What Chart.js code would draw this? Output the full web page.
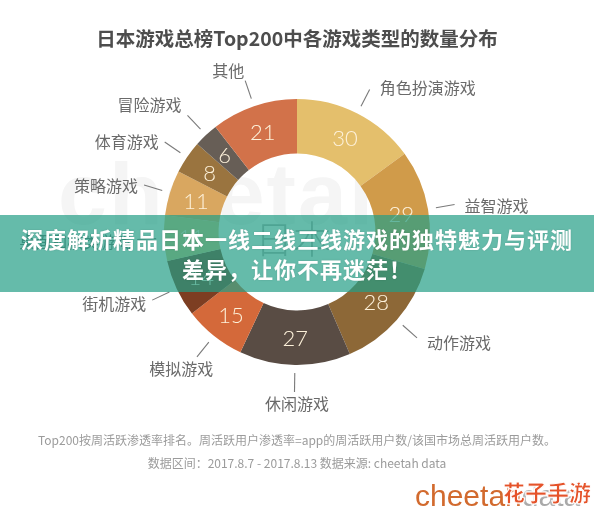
<!DOCTYPE html>
<html><head><meta charset="utf-8">
<script src="https://cdn.jsdelivr.net/npm/chart.js@4.4.1/dist/chart.umd.min.js"></script>
<style>
html,body{margin:0;padding:0;background:#fff;}
#wrap{position:relative;width:594px;height:508px;overflow:hidden;font-family:"Noto Sans CJK SC","Noto Sans",sans-serif;}
canvas{position:absolute;left:0;top:0;}
.t{position:absolute;white-space:nowrap;}
#wm{left:58px;top:150px;font:bold 88px/88px "Liberation Sans",sans-serif;color:#f5f5f5;letter-spacing:2px;}
#title{left:0;width:594px;text-align:center;top:25px;font-size:19.5px;line-height:26px;font-weight:bold;color:#4d4d4d;}
#center{left:0;width:586px;text-align:center;top:216px;font-size:38px;line-height:42px;color:#b3b3b3;font-weight:300;}
#banner{position:absolute;left:0;top:215px;width:594px;height:77px;background:rgba(35,158,134,0.7);color:#fff;font-weight:bold;font-size:22px;line-height:30px;text-align:center;padding-top:8px;box-sizing:border-box;letter-spacing:1px;text-shadow:0 0 2px rgba(0,0,0,0.15);}
.note{left:0;width:594px;text-align:center;font-size:12px;line-height:16px;color:#9b9b9b;}
#note1{top:432px;}
#note2{top:455px;}
#logo{left:415px;top:481px;font:30px/30px "Liberation Sans",sans-serif;}
#logo .o{color:#d26a2e;}
#logo .g{color:#a9a9a9;}
#wm2{left:503px;top:479px;font-size:22px;line-height:24px;font-weight:900;color:#e5532a;-webkit-text-stroke:1px #fff;text-shadow:0 0 2px #fff,0 0 3px #fff;}
</style></head><body>
<div id="wrap">
  <div class="t" id="wm">cheetah</div>
  <canvas id="c" width="594" height="508"></canvas>
  <div class="t" id="title">日本游戏总榜Top200中各游戏类型的数量分布</div>
  <div class="t" id="center">日本</div>
  <div id="banner"><div>深度解析精品日本一线二线三线游戏的独特魅力与评测</div><div>差异，让你不再迷茫！</div></div>
  <div class="t note" id="note1">Top200按周活跃渗透率排名。周活跃用户渗透率=app的周活跃用户数/该国市场总周活跃用户数。</div>
  <div class="t note" id="note2">数据区间：2017.8.7 - 2017.8.13 数据来源: cheetah data</div>
  <div class="t" id="logo"><span class="o">cheetah</span><span class="g">data</span></div>
  <div class="t" id="wm2">花子手游</div>
</div>
<script>
const categories = ['角色扮演游戏','益智游戏','动作游戏','休闲游戏','模拟游戏','街机游戏','桌面和棋类游戏','策略游戏','体育游戏','冒险游戏','其他'];
const counts = [30,29,28,27,15,14,11,11,8,6,21];
const segmentColors = ['#e4bf6c','#d09b4a','#8d6837','#594c44','#d4693a','#7d3e22','#d8c27a','#d9a760','#9a743f','#675e56','#d2724a'];

const outLabels = {
  id:'outLabels',
  afterDatasetsDraw(chart){
    const ctx = chart.ctx;
    const meta = chart.getDatasetMeta(0);
    ctx.save();
    meta.data.forEach((arc,i)=>{
      const p = arc.getProps(['x','y','startAngle','endAngle','outerRadius','innerRadius'],true);
      const mid = (p.startAngle+p.endAngle)/2;
      const dx = Math.cos(mid), dy = Math.sin(mid);
      const rv = (p.innerRadius+p.outerRadius)/2;
      ctx.fillStyle = '#fdf1da';
      ctx.font = '300 22px Lato, "Liberation Sans", sans-serif';
      ctx.textAlign='center'; ctx.textBaseline='middle';
      ctx.fillText(String(counts[i]), p.x+dx*rv, p.y+dy*rv+1);
      const r1 = p.outerRadius+8, r2 = p.outerRadius+27;
      const x1 = p.x+dx*r1, y1 = p.y+dy*r1, x2 = p.x+dx*r2, y2 = p.y+dy*r2;
      ctx.strokeStyle = '#7a7a7a'; ctx.lineWidth = 1.1;
      ctx.beginPath(); ctx.moveTo(x1,y1); ctx.lineTo(x2,y2); ctx.stroke();
      ctx.fillStyle = '#6a6a6a';
      ctx.font = '16px "Noto Sans CJK SC", sans-serif';
      const side = dy < 0 ? Math.abs(dx) > 0.4 : Math.abs(dx) > 0.7;
      if (side){
        ctx.textBaseline='middle';
        ctx.textAlign = dx>0 ? 'left':'right';
        const yOff = (dx<0 && dy<-0.6) ? dy*14 : dy*4+2;
        ctx.fillText(categories[i], x2 + (dx>0?10:-6), y2 + yOff);
      } else {
        ctx.textAlign='center';
        if (dy<0){ ctx.textBaseline='bottom'; ctx.fillText(categories[i], x2+dx*40-4, y2-2); }
        else { ctx.textBaseline='top'; ctx.fillText(categories[i], x2+dx*30+3, y2+4); }
      }
    });
    ctx.restore();
  }
};

new Chart(document.getElementById('c'),{
  type:'doughnut',
  data:{labels:categories,datasets:[{data:counts,backgroundColor:segmentColors,borderWidth:0}]},
  options:{
    responsive:false, devicePixelRatio:1, animation:false,
    cutout:'59%',
    layout:{padding:{top:99,bottom:143,left:164,right:164}},
    plugins:{legend:{display:false},tooltip:{enabled:false},title:{display:false}}
  },
  plugins:[outLabels]
});
</script>
</body></html>
